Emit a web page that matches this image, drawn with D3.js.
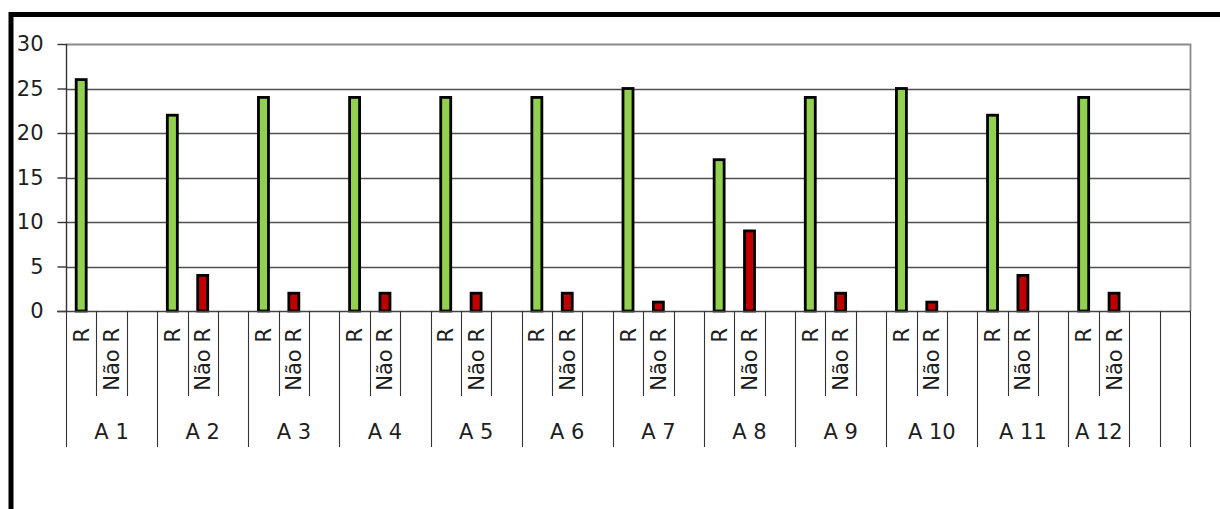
<!DOCTYPE html>
<html>
<head>
<meta charset="utf-8">
<script src="https://cdn.jsdelivr.net/npm/d3@7"></script>
<style>
  body { margin: 0; background: #fff; }
  svg text { font-family: "DejaVu Sans", sans-serif; fill: #1e1e1e; }
</style>
</head>
<body>
<div id="chart"></div>
<script>
// dados
var grupos = ["A 1", "A 2", "A 3", "A 4", "A 5", "A 6", "A 7", "A 8", "A 9", "A 10", "A 11", "A 12"];
var subRotulos = ["R", "Não R"];
var valoresR = [26, 22, 24, 24, 24, 24, 25, 17, 24, 25, 22, 24];
var valoresNaoR = [0, 4, 2, 2, 2, 2, 1, 9, 2, 1, 4, 2];
var ticksY = [0, 5, 10, 15, 20, 25, 30];

var W = 1220, H = 509;
var plot = {left: 66, right: 1190, top: 44, bottom: 311};

// cada grupo: R, Não R e um espaco vazio (o ultimo grupo sem espaco), mais 2 categorias vazias
var slots = [];
grupos.forEach(function(g, i){
    slots.push({id: g + "|R", grupo: i, sub: subRotulos[0], valor: valoresR[i]});
    slots.push({id: g + "|N", grupo: i, sub: subRotulos[1], valor: valoresNaoR[i]});
    if (i < grupos.length - 1) slots.push({id: g + "|E", grupo: i, sub: "", valor: null});
});
slots.push({id: "extra1", grupo: -1, sub: "", valor: null});
slots.push({id: "extra2", grupo: -2, sub: "", valor: null});

var x = d3.scaleBand().domain(slots.map(function(d){ return d.id; }))
    .range([plot.left, plot.right]).padding(0);
var y = d3.scaleLinear().domain([0, 30]).range([plot.bottom, plot.top]);

var svg = d3.select("#chart").append("svg")
    .attr("width", W).attr("height", H);

// moldura
svg.append("rect").attr("x", 11).attr("y", 14.5).attr("width", 1400).attr("height", 700)
    .attr("fill", "none").attr("stroke", "#000").attr("stroke-width", 5);

// grade
svg.append("g").selectAll("line").data(ticksY.filter(function(t){ return t > 0 && t < 30; }))
  .enter().append("line")
    .attr("x1", plot.left).attr("x2", plot.right)
    .attr("y1", function(d){ return Math.round(y(d)) + 0.5; })
    .attr("y2", function(d){ return Math.round(y(d)) + 0.5; })
    .attr("stroke", "#4f4f4f").attr("stroke-width", 1.5);

// borda superior e direita da area de plotagem
svg.append("path")
    .attr("d", "M" + plot.left + "," + (plot.top + 0.5) + "H" + (plot.right + 0.5) + "V" + plot.bottom)
    .attr("fill", "none").attr("stroke", "#8a8a8a").attr("stroke-width", 1.8);

// barras
var cores = {"R": "#92d050", "Não R": "#c00000"};
var larg = 10;
svg.append("g").selectAll("rect").data(slots.filter(function(d){ return d.valor > 0; }))
  .enter().append("rect")
    .attr("x", function(d){ return x(d.id) + x.bandwidth() / 2 - larg / 2; })
    .attr("y", function(d){ return y(d.valor); })
    .attr("width", larg)
    .attr("height", function(d){ return y(0) - y(d.valor); })
    .attr("fill", function(d){ return cores[d.sub]; })
    .attr("stroke", "#000").attr("stroke-width", 2.8);

// eixo y
var eixoY = d3.axisLeft(y).tickValues(ticksY).tickSize(9).tickPadding(14);
var gy = svg.append("g").attr("transform", "translate(" + (plot.left + 0.5) + ",0)").call(eixoY);
gy.select(".domain").remove();
gy.selectAll(".tick line").attr("stroke", "#333").attr("stroke-width", 1.4);
gy.selectAll(".tick text").style("font-size", "21px").attr("fill", "#1e1e1e");

// linha do eixo x
svg.append("line").attr("x1", plot.left - 9).attr("x2", plot.right + 1)
    .attr("y1", plot.bottom + 0.5).attr("y2", plot.bottom + 0.5)
    .attr("stroke", "#444").attr("stroke-width", 1.4);

// linhas verticais das categorias
var yCurto = 396, yLongo = 447;
var linhas = [];
slots.forEach(function(d, i){
    var xs = Math.round(x(d.id)) + 0.5;
    var anterior = slots[i - 1];
    var longo = i === 0 || d.grupo !== anterior.grupo;
    linhas.push({x: xs, y2: longo ? yLongo : yCurto});
});
linhas.push({x: Math.round(plot.right) + 0.5, y2: yLongo});
svg.append("g").selectAll("line").data(linhas).enter().append("line")
    .attr("x1", function(d){ return d.x; }).attr("x2", function(d){ return d.x; })
    .attr("y1", plot.bottom).attr("y2", function(d){ return d.y2; })
    .attr("stroke", "#333").attr("stroke-width", 1.1);
// eixo y
svg.append("line").attr("x1", plot.left + 0.5).attr("x2", plot.left + 0.5)
    .attr("y1", plot.top).attr("y2", plot.bottom)
    .attr("stroke", "#333").attr("stroke-width", 1.4);

// rotulos dos subitens (rotacionados)
svg.append("g").selectAll("text").data(slots.filter(function(d){ return d.sub !== ""; }))
  .enter().append("text")
    .attr("transform", function(d){
        return "translate(" + (x(d.id) + x.bandwidth() / 2 + 7.5) + ",328) rotate(-90)";
    })
    .attr("text-anchor", "end")
    .style("font-size", "21px")
    .text(function(d){ return d.sub; });

// rotulos dos grupos
svg.append("g").selectAll("text").data(grupos).enter().append("text")
    .attr("x", function(g, i){
        var doGrupo = slots.filter(function(s){ return s.grupo === i; });
        var x0 = x(doGrupo[0].id);
        var x1 = x(doGrupo[doGrupo.length - 1].id) + x.bandwidth();
        return (x0 + x1) / 2;
    })
    .attr("y", 439)
    .attr("text-anchor", "middle")
    .style("font-size", "21px")
    .text(function(g){ return g; });
</script>
</body>
</html>
